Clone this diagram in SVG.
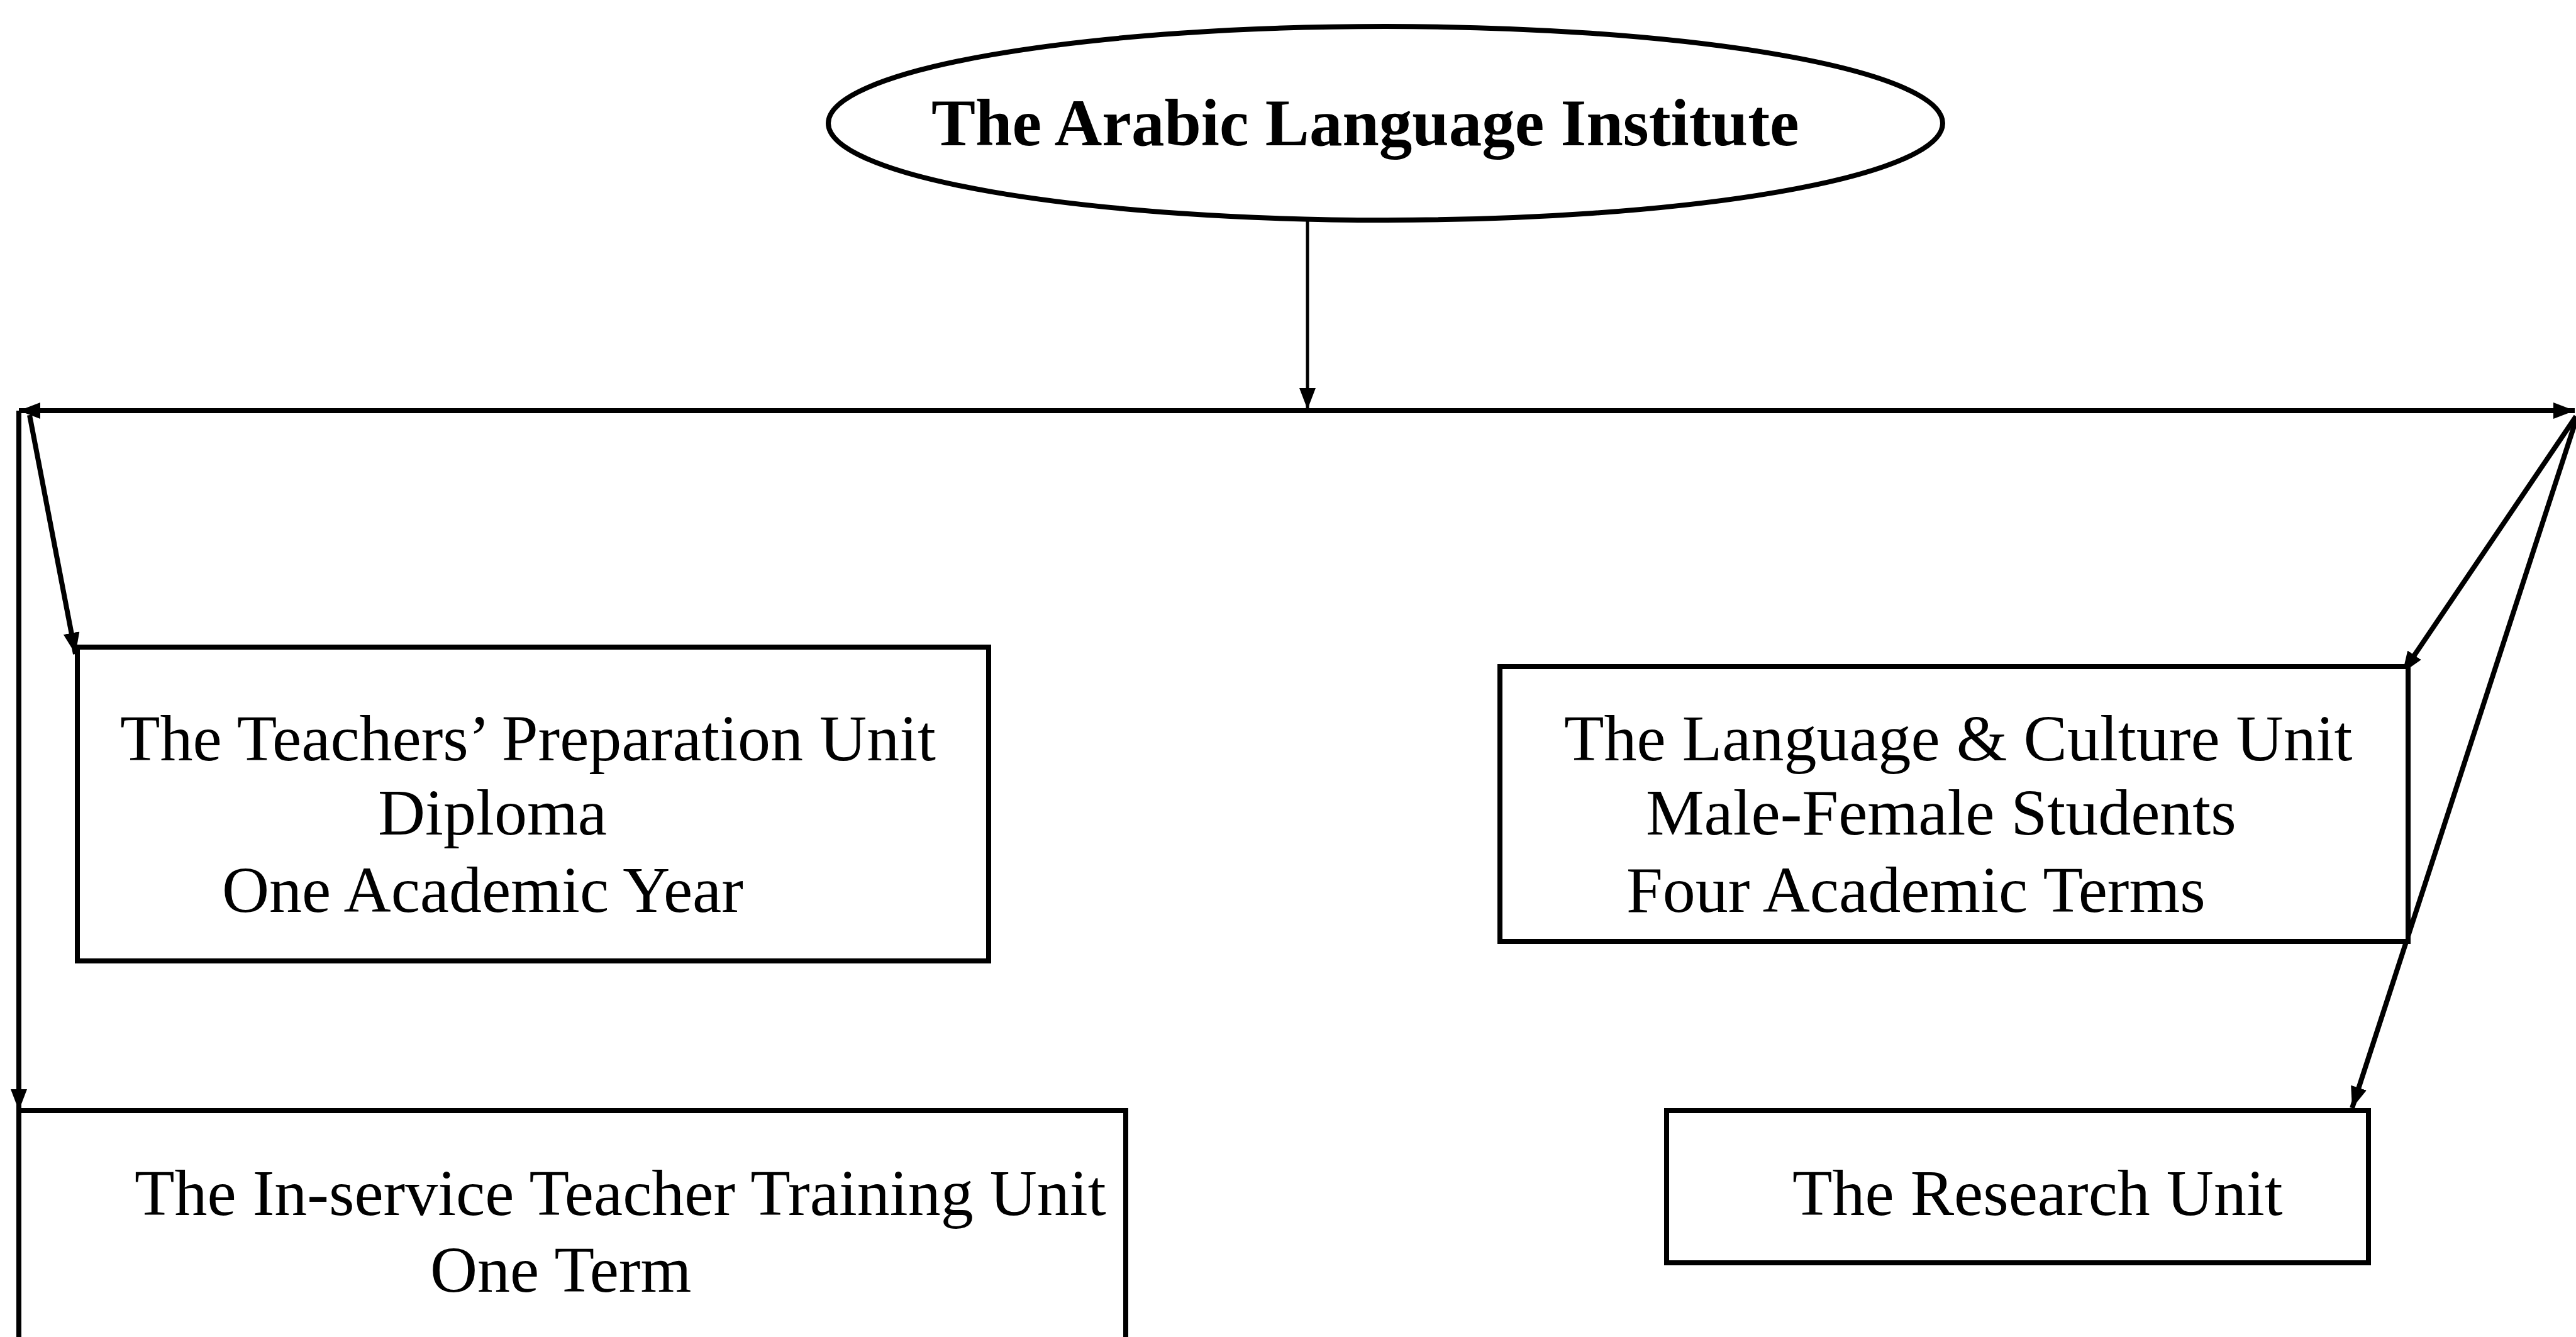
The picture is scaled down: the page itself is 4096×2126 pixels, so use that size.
<svg xmlns="http://www.w3.org/2000/svg" width="4096" height="2126" viewBox="0 0 4096 2126">
<style>
.box{fill:#fff;stroke:#000;stroke-width:8}
.ln{fill:none;stroke:#000;stroke-width:8}
.thin{fill:none;stroke:#000;stroke-width:5}
.t{font-family:"Liberation Serif","Times New Roman",serif;font-size:104px;fill:#000}
.tb{font-family:"Liberation Serif","Times New Roman",serif;font-size:105px;font-weight:bold;fill:#000}
</style>
<defs>
<marker id="ah" markerUnits="userSpaceOnUse" markerWidth="36" markerHeight="28" refX="34" refY="13" orient="auto">
<path d="M0,0 L34,13 L0,26 z" fill="#000"/>
</marker>
</defs>
<rect width="4096" height="2126" fill="#fff"/>
<g id="connectors">
<line class="thin" x1="2079" y1="352" x2="2079" y2="651" marker-end="url(#ah)"/>
<line class="ln" x1="2079" y1="653" x2="30" y2="653" marker-end="url(#ah)"/>
<line class="ln" x1="2079" y1="653" x2="4094" y2="653" marker-end="url(#ah)"/>
<line class="ln" x1="30" y1="653" x2="30" y2="1766" marker-end="url(#ah)"/>
<line class="ln" x1="47" y1="660" x2="120" y2="1040" marker-end="url(#ah)"/>
<line class="ln" x1="4096" y1="662" x2="3820" y2="1070" marker-end="url(#ah)"/>
<line class="ln" x1="4096" y1="668" x2="3740" y2="1762" marker-end="url(#ah)"/>
</g>
<g id="institute">
<ellipse cx="2203" cy="196" rx="886" ry="154" fill="#fff" stroke="#000" stroke-width="8"/>
<text class="tb" x="1481" y="231">The Arabic Language Institute</text>
</g>
<g id="teachers-unit">
<rect class="box" x="123" y="1029" width="1449" height="499"/>
<text class="t" x="191" y="1209">The Teachers&#8217; Preparation Unit</text>
<text class="t" x="601" y="1327">Diploma</text>
<text class="t" x="353" y="1450">One Academic Year</text>
</g>
<g id="language-unit">
<rect class="box" x="2385" y="1060" width="1444" height="437"/>
<text class="t" x="2487" y="1209">The Language &amp; Culture Unit</text>
<text class="t" x="2617" y="1327">Male-Female Students</text>
<text class="t" x="2586" y="1450">Four Academic Terms</text>
</g>
<g id="inservice-unit">
<rect class="box" x="30" y="1766" width="1760" height="420"/>
<text class="t" x="214" y="1932">The In-service Teacher Training Unit</text>
<text class="t" x="684" y="2054">One Term</text>
</g>
<g id="research-unit">
<rect class="box" x="2650" y="1766" width="1116" height="242"/>
<text class="t" x="2850" y="1932">The Research Unit</text>
</g>
</svg>
